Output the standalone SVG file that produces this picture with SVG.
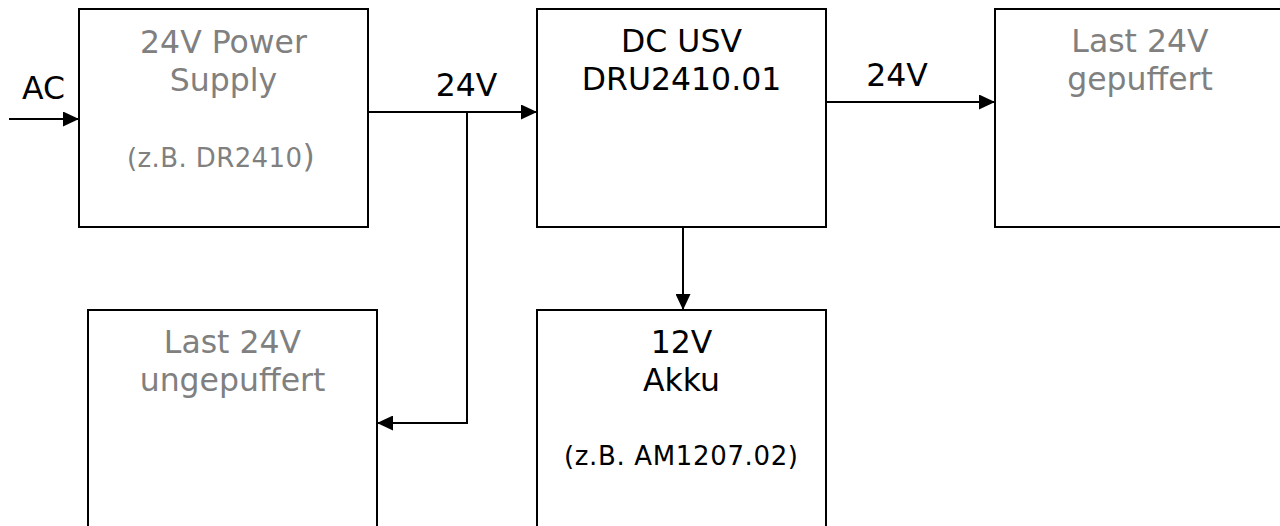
<svg xmlns="http://www.w3.org/2000/svg" width="1280" height="526" viewBox="0 0 1280 526">
<defs>
<style>
.box{fill:#fff;stroke:#000;stroke-width:2}
.t{font-family:Verdana,"DejaVu Sans",sans-serif;font-size:31.5px;text-anchor:middle}
.s{font-size:26px}
.g{fill:#808080}
.k{fill:#000}
.c{fill:none;stroke:#000;stroke-width:2}
</style>
<marker id="ah" markerUnits="userSpaceOnUse" markerWidth="16" markerHeight="15" refX="16" refY="7.5" orient="auto">
<path d="M0,0 L16,7.5 L0,15 z" fill="#000"/>
</marker>
</defs>
<rect width="1280" height="526" fill="#fff"/>
<g id="connectors">
<line class="c" x1="9" y1="119" x2="79" y2="119" marker-end="url(#ah)"/>
<line class="c" x1="368" y1="112" x2="537" y2="112" marker-end="url(#ah)"/>
<polyline class="c" points="467,112 467,423 377,423" marker-end="url(#ah)"/>
<line class="c" x1="826" y1="102" x2="995" y2="102" marker-end="url(#ah)"/>
<line class="c" x1="683" y1="227" x2="683" y2="310" marker-end="url(#ah)"/>
<text class="t k" x="43.5" y="99">AC</text>
<text class="t k" x="466.5" y="96">24V</text>
<text class="t k" x="897" y="86">24V</text>
</g>
<g id="power-supply">
<rect class="box" x="79" y="9" width="289" height="218"/>
<text class="t g" x="223.5" y="53">24V Power</text>
<text class="t g" x="223.5" y="91">Supply</text>
<text class="t g" x="127" y="167" text-anchor="start" style="text-anchor:start"><tspan class="s" textLength="175" lengthAdjust="spacing">(z.B. DR2410</tspan><tspan>)</tspan></text>
</g>
<g id="dc-usv">
<rect class="box" x="537" y="9" width="289" height="218"/>
<text class="t k" x="681.5" y="52">DC USV</text>
<text class="t k" x="681.5" y="90">DRU2410.01</text>
</g>
<g id="last-gepuffert">
<rect class="box" x="995" y="9" width="290" height="218"/>
<text class="t g" x="1140" y="52">Last 24V</text>
<text class="t g" x="1140" y="90">gepuffert</text>
</g>
<g id="last-ungepuffert">
<rect class="box" x="88" y="310" width="289" height="220"/>
<text class="t g" x="232.5" y="353">Last 24V</text>
<text class="t g" x="232.5" y="391">ungepuffert</text>
</g>
<g id="akku">
<rect class="box" x="537" y="310" width="289" height="220"/>
<text class="t k" x="681.5" y="353">12V</text>
<text class="t k" x="681.5" y="391">Akku</text>
<text class="t k s" x="681" y="465" textLength="234" lengthAdjust="spacing">(z.B. AM1207.02)</text>
</g>
</svg>
